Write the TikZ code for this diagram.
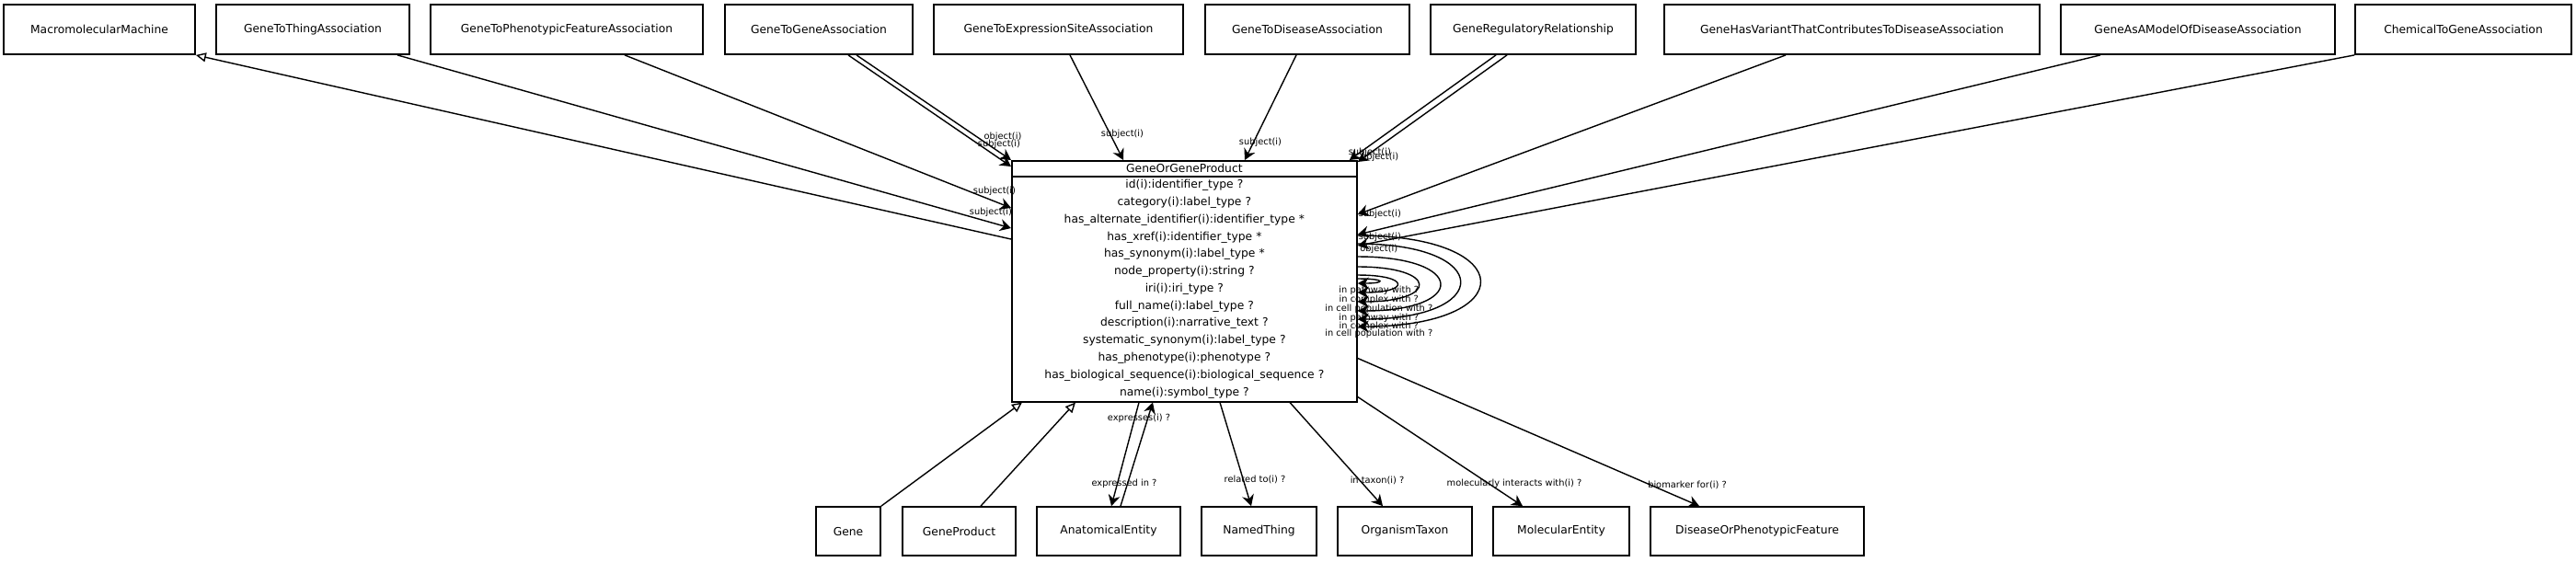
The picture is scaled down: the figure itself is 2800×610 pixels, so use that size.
\documentclass[tikz,border=0pt]{standalone}
\usepackage{fontspec}
\setmainfont{DejaVu Sans}
\usetikzlibrary{arrows.meta,shapes.multipart}

\tikzset{
    classbox/.style={draw, line width=0.5pt, minimum height=5.4mm, inner sep=1pt,
        font=\fontsize{3.5}{4.2}\selectfont},
    lbl/.style={inner sep=0pt, font=\fontsize{2.8}{3}\selectfont},
    rel/.style={-{Stealth[length=1.2mm,width=1.3mm]}},
    isa/.style={-{Triangle[open,length=1.1mm,width=1mm]}, fill=white},
}

\begin{document}
\begin{tikzpicture}[x=0.1mm, y=-0.1mm]
    \useasboundingbox (0,0) rectangle (2800,610);

    % upper row (name / centre x / width / text)
    \foreach \name/\cx/\w/\txt in {macro/108/20.8/MacromolecularMachine,
        g2thing/340/21.0/GeneToThingAssociation,
        g2pheno/616/29.6/GeneToPhenotypicFeatureAssociation,
        g2gene/890/20.4/GeneToGeneAssociation,
        g2expr/1150.5/27.1/GeneToExpressionSiteAssociation,
        g2dis/1421/22.2/GeneToDiseaseAssociation,
        regrel/1666.5/22.3/GeneRegulatoryRelationship,
        hasvar/2013/40.8/GeneHasVariantThatContributesToDiseaseAssociation,
        model/2389/29.8/GeneAsAModelOfDiseaseAssociation,
        chem2gene/2677.5/23.5/ChemicalToGeneAssociation}
    {
        \node[classbox, minimum width=\w mm] (\name) at (\cx,32) {\txt};
    }

    % lower row
    \foreach \name/\cx/\w/\txt in {gene/922/7.0/Gene,
        geneprod/1042.5/12.3/GeneProduct,
        anat/1205/15.6/AnatomicalEntity,
        named/1368.5/12.5/NamedThing,
        taxon/1527/14.6/OrganismTaxon,
        molent/1697/14.8/MolecularEntity,
        disease/1910/23.2/DiseaseOrPhenotypicFeature}
    {
        \node[classbox, minimum width=\w mm, minimum height=5.3mm] (\name) at (\cx,577.5) {\txt};
    }

    % the class itself
    \node[classbox, rectangle split, rectangle split parts=2, anchor=north west,
        text width=36.8mm, align=center, inner ysep=0.8pt,
        font=\fontsize{3.5}{5.34}\selectfont] (gogp) at (1099,174)
        {GeneOrGeneProduct
        \nodepart{second}
        id(i):identifier\_type ?\\
        category(i):label\_type ?\\
        has\_alternate\_identifier(i):identifier\_type *\\
        has\_xref(i):identifier\_type *\\
        has\_synonym(i):label\_type *\\
        node\_property(i):string ?\\
        iri(i):iri\_type ?\\
        full\_name(i):label\_type ?\\
        description(i):narrative\_text ?\\
        systematic\_synonym(i):label\_type ?\\
        has\_phenotype(i):phenotype ?\\
        has\_biological\_sequence(i):biological\_sequence ?\\
        name(i):symbol\_type ?};

    % associations pointing at subject / object
    \draw[rel] ([xshift=9.2mm]g2thing.south) -- ([yshift=-7.4mm]gogp.north west)
        node[lbl, at end, xshift=-2.2mm, yshift=1.7mm] {subject(i)};
    \draw[rel] ([xshift=6.3mm]g2pheno.south) -- ([yshift=-5.2mm]gogp.north west)
        node[lbl, at end, xshift=-1.8mm, yshift=1.8mm] {subject(i)};
    \draw[rel] ([xshift=4.1mm]g2gene.south) -- (gogp.north west)
        node[lbl, at end, xshift=-0.9mm, yshift=2.5mm] {object(i)};
    \draw[rel] ([xshift=3.2mm]g2gene.south) -- ([yshift=-0.7mm]gogp.north west)
        node[lbl, at end, xshift=-1.3mm, yshift=2.4mm] {subject(i)};
    \draw[rel] ([xshift=1.25mm]g2expr.south) -- ([xshift=12.2mm]gogp.north west)
        node[lbl, at end, xshift=-0.1mm, yshift=2.8mm] {subject(i)};
    \draw[rel] ([xshift=-1.2mm]g2dis.south) -- ([xshift=25.4mm]gogp.north west)
        node[lbl, at end, xshift=1.7mm, yshift=1.9mm] {subject(i)};
    \draw[rel] ([xshift=-4.05mm]regrel.south) -- ([xshift=-0.9mm]gogp.north east)
        node[lbl, at end, xshift=2.2mm, yshift=0.8mm] {subject(i)};
    \draw[rel] ([xshift=-2.85mm]regrel.south) -- ([yshift=-0.2mm]gogp.north east)
        node[lbl, at end, xshift=2.4mm, yshift=0.5mm] {object(i)};
    \draw[rel] ([xshift=-7.2mm]hasvar.south) -- ([yshift=-5.9mm]gogp.north east)
        node[lbl, at end, xshift=2.4mm] {subject(i)};
    \draw[rel] ([xshift=-10.6mm]model.south) -- ([yshift=-8.1mm]gogp.north east)
        node[lbl, at end, xshift=2.4mm, yshift=-0.3mm] {subject(i)};
    \draw[rel] (chem2gene.south west) -- ([yshift=-9.3mm]gogp.north east)
        node[lbl, at end, xshift=2.3mm, yshift=-0.4mm] {object(i)};

    % is_a
    \draw[isa] (gene.north east) -- ([xshift=1.2mm]gogp.south west);
    \draw[isa] ([xshift=2.35mm]geneprod.north) -- ([xshift=7mm]gogp.south west);
    \draw[isa] ([yshift=-8.6mm]gogp.north west) -- (macro.south east);

    % slots with a range
    \draw[rel] ([xshift=13.9mm]gogp.south west) -- ([xshift=0.3mm]anat.north)
        node[lbl, at end, xshift=1.4mm, yshift=2.4mm] {expressed in ?};
    \draw[rel] ([xshift=1.3mm]anat.north) -- ([xshift=15.4mm]gogp.south west)
        node[lbl, at end, xshift=-1.5mm, yshift=-1.7mm] {expresses(i) ?};
    \draw[rel] ([xshift=22.7mm]gogp.south west) -- ([xshift=-0.85mm]named.north)
        node[lbl, at end, xshift=0.4mm, yshift=2.9mm] {related to(i) ?};
    \draw[rel] ([xshift=30.3mm]gogp.south west) -- ([xshift=-2.4mm]taxon.north)
        node[lbl, at end, xshift=-0.6mm, yshift=2.8mm] {in taxon(i) ?};
    \draw[rel] ([yshift=0.6mm]gogp.south east) -- ([xshift=-4.2mm]molent.north)
        node[lbl, at end, xshift=-0.9mm, yshift=2.4mm] {molecularly interacts with(i) ?};
    \draw[rel] ([yshift=4.8mm]gogp.south east) -- ([xshift=-6.3mm]disease.north)
        node[lbl, at end, xshift=-1.3mm, yshift=2.3mm] {biomarker for(i) ?};

    % self loops (start / end below the top corner, reach of the controls)
    \foreach \ys/\ye/\c/\txt in {12.9/13.4/3.1/in pathway with ?,
        12.5/14.4/5.7/in complex with ?,
        11.6/15.4/8.8/in cell population with ?,
        10.5/16.4/11.9/in pathway with ?,
        9.1/17.3/14.8/in complex with ?,
        8.2/18.1/17.7/in cell population with ?}
    {
        \draw[rel] ([yshift=-\ys mm]gogp.north east) .. controls +(\c mm,0) and +(\c mm,0)
            .. ([yshift=-\ye mm]gogp.north east)
            node[lbl, at end, xshift=2.3mm, yshift=-0.75mm] {\txt};
    }
\end{tikzpicture}
\end{document}
